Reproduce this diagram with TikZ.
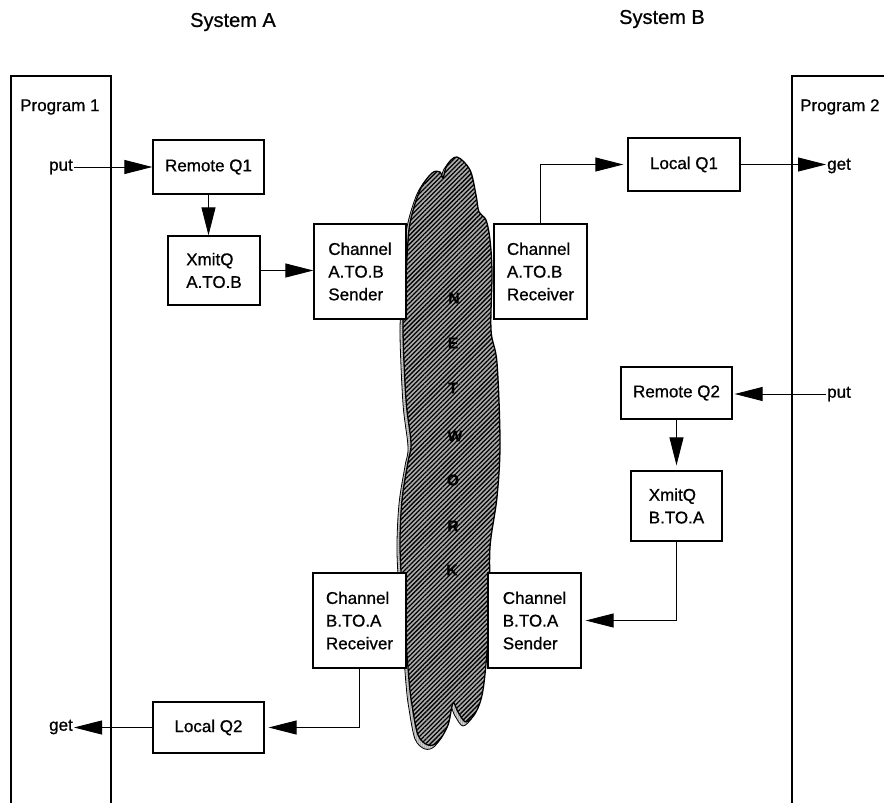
\documentclass[tikz,border=0pt]{standalone}
\usepackage{fontspec}
\setmainfont{Liberation Sans}[FakeBold=0.8]
\usetikzlibrary{arrows.meta,patterns.meta}
\begin{document}
\begin{tikzpicture}[x=1pt,y=-1pt,
  box/.style={draw,line width=1.3pt,fill=white,align=left,inner sep=0pt,font=\fontsize{17}{22.7}\selectfont},
  lbl/.style={inner sep=1pt,font=\fontsize{17}{20}\selectfont},
  title/.style={inner sep=1pt,font=\fontsize{20}{24}\selectfont},
  conn/.style={line width=0.9pt,-{Triangle[length=28pt,width=14pt]}},
  frame/.style={line width=1.3pt},
  net/.style={inner sep=0pt,font=\bfseries\fontsize{15.5}{16}\selectfont}
]
\useasboundingbox (0,0) rectangle (884,803);

% titles
\node[title] (sysA) at (233,22) {System A};
\node[title] (sysB) at (662,19) {System B};

% program frames
\draw[frame] (11,803) -- (11,76) -- (111,76) -- (111,803);
\draw[frame] (792,803) -- (792,76) -- (884,76);
\node[lbl,anchor=west] (p1) at (19,107) {Program 1};
\node[lbl,anchor=west] (p2) at (799,107) {Program 2};

% network cloud
\def\cloudpts{(457,157) (470,170) (476,195) (479,212) (486,220) (490,240) (492,273) (491,330) (497,363) (500,443) (497,497) (490,547) (490,600) (488,640) (483,690) (476,712) (466,722) (458,712) (453,703) (448,725) (438,742) (428,745) (418,735) (412,705) (409,680) (403,600) (400,547) (402,500) (408,462) (411,443) (406,400) (403,330) (405,290) (407,257) (410,223) (420,190) (432,173) (440,172) (443,178) (447,165)}
\begin{scope}[shift={(-3,4)}]
\path[draw=black,line width=0.8pt,preaction={fill=gray!25},pattern={Dots[distance=2pt,radius=0.5pt]}]
  plot[smooth cycle,tension=0.55] coordinates {\cloudpts};
\end{scope}
\path[draw=black,line width=1.3pt,preaction={fill=gray!65},pattern={Lines[angle=45,distance=3.2pt,line width=1.3pt]}]
  plot[smooth cycle,tension=0.55] coordinates {\cloudpts};
\node[net] (nN) at (454,298) {N};
\node[net] (nE) at (453,343) {E};
\node[net] (nT) at (453,388) {T};
\node[net] (nW) at (455,436) {W};
\node[net] (nO) at (453,480) {O};
\node[net] (nR) at (453,526) {R};
\node[net] (nK) at (452,570) {K};

% boxes
\node[box,minimum width=111pt,minimum height=54pt] (rq1) at (208.5,167) {Remote Q1};
\node[box,minimum width=92pt,minimum height=69pt] (xa) at (214,270.5) {XmitQ\\A.TO.B};
\node[box,minimum width=92pt,minimum height=95pt] (sa) at (360,271.5) {Channel\\A.TO.B\\Sender};
\node[box,minimum width=93pt,minimum height=95pt] (ra) at (540.5,271.5) {Channel\\A.TO.B\\Receiver};
\node[box,minimum width=112pt,minimum height=53pt] (lq1) at (684,164.5) {Local Q1};
\node[box,minimum width=111pt,minimum height=52pt] (rq2) at (676.5,393) {Remote Q2};
\node[box,minimum width=91pt,minimum height=70pt] (xb) at (676.5,506) {XmitQ\\B.TO.A};
\node[box,minimum width=93pt,minimum height=95pt] (sb) at (534.5,620.5) {Channel\\B.TO.A\\Sender};
\node[box,minimum width=93pt,minimum height=95pt] (rb) at (359.5,620.5) {Channel\\B.TO.A\\Receiver};
\node[box,minimum width=111pt,minimum height=51pt] (lq2) at (208.5,727.5) {Local Q2};

% put / get labels
\node[lbl,anchor=east] (put1) at (74,167) {put};
\node[lbl,anchor=east] (get1) at (74,727) {get};
\node[lbl,anchor=west] (get2) at (826,166) {get};
\node[lbl,anchor=west] (put2) at (826,394) {put};

% connectors
\draw[conn] (put1.east) -- (put1.east -| rq1.west);
\draw[conn] (rq1.south) -- (rq1.south |- xa.north);
\draw[conn] (xa.east) -- (xa.east -| sa.west);
\draw[conn,shorten >=4pt] (ra.north) |- (lq1.west);
\draw[conn] (lq1.east) -- (lq1.east -| get2.west);
\draw[conn,shorten >=2pt] (put2.west) -- (put2.west -| rq2.east);
\draw[conn,shorten >=5pt] (rq2.south) -- (xb.north);
\draw[conn,shorten >=4pt] (xb.south) |- (sb.east);
\draw[conn,shorten >=4pt] (rb.south) |- (lq2.east);
\draw[conn] (lq2.west) -- (lq2.west -| get1.east);
\end{tikzpicture}
\end{document}
